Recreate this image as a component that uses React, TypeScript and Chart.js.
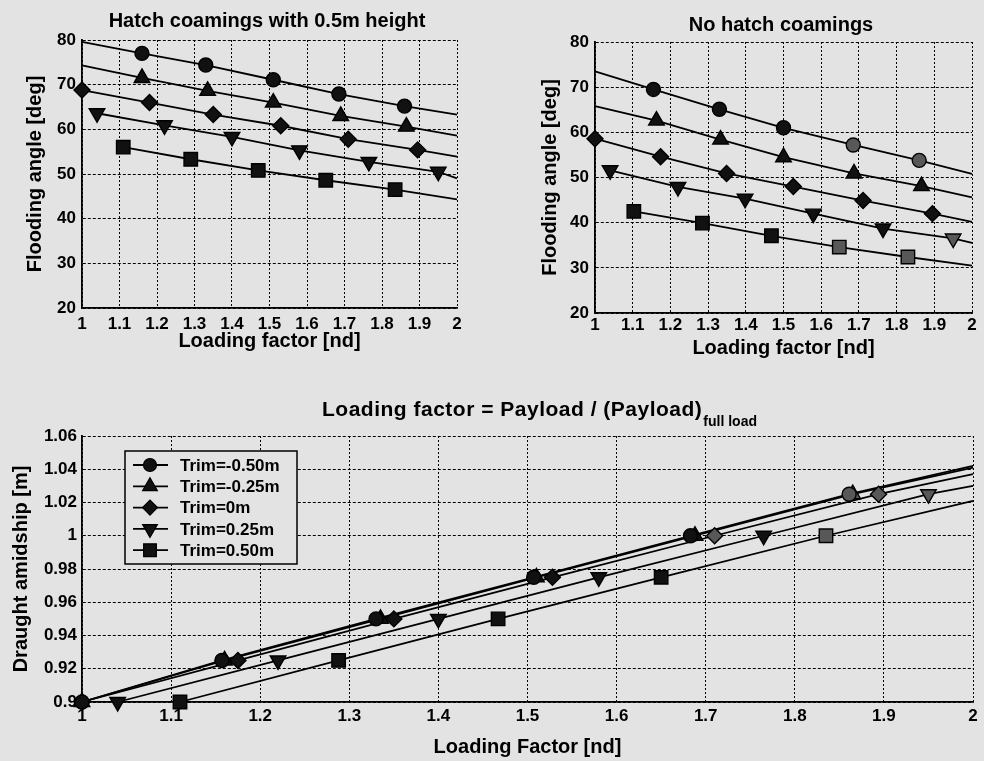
import React, { useEffect, useRef } from 'react';
import { Chart, registerables } from 'chart.js';

Chart.register(...registerables);

// ---------------- data ----------------
const trimLabels = ['Trim=-0.50m', 'Trim=-0.25m', 'Trim=0m', 'Trim=0.25m', 'Trim=0.50m'];

const loadTicks = [1, 1.1, 1.2, 1.3, 1.4, 1.5, 1.6, 1.7, 1.8, 1.9, 2];
const loadTickLabels = ['1', '1.1', '1.2', '1.3', '1.4', '1.5', '1.6', '1.7', '1.8', '1.9', '2'];
const angleTicks = [20, 30, 40, 50, 60, 70, 80];
const angleTickLabels = ['20', '30', '40', '50', '60', '70', '80'];
const draughtTicks = [0.9, 0.92, 0.94, 0.96, 0.98, 1, 1.02, 1.04, 1.06];
const draughtTickLabels = ['0.9', '0.92', '0.94', '0.96', '0.98', '1', '1.02', '1.04', '1.06'];

// Hatch coamings with 0.5m height: flooding angle [deg] vs loading factor
const hcLoadM050 = [1.16, 1.33, 1.51, 1.685, 1.86];
const hcAngleM050 = [77.0, 74.4, 71.1, 67.9, 65.2];
const hcLoadM025 = [1.16, 1.335, 1.51, 1.69, 1.865];
const hcAngleM025 = [71.5, 68.6, 66.0, 63.0, 60.6];
const hcLoad0 = [1.0, 1.18, 1.35, 1.53, 1.71, 1.895];
const hcAngle0 = [68.8, 66.0, 63.3, 60.8, 57.8, 55.4];
const hcLoadP025 = [1.04, 1.22, 1.4, 1.58, 1.765, 1.95];
const hcAngleP025 = [63.6, 60.9, 58.3, 55.3, 52.7, 50.5];
const hcLoadP050 = [1.11, 1.29, 1.47, 1.65, 1.835];
const hcAngleP050 = [56.0, 53.3, 50.8, 48.6, 46.5];
// trend line values at loading factor 1 (null: line starts at first marker) and at 2
const hcFitAt1 = [79.6, 74.3, null, null, null];
const hcFitAt2 = [63.3, 58.6, 53.9, 49.0, 44.3];

// No hatch coamings
const nhLoadM050 = [1.155, 1.33, 1.5, 1.685, 1.86];
const nhAngleM050 = [69.5, 65.1, 61.0, 57.2, 53.8];
const nhLoadM025 = [1.163, 1.333, 1.5, 1.687, 1.866];
const nhAngleM025 = [62.6, 58.4, 54.5, 50.9, 48.1];
const nhLoad0 = [1.0, 1.174, 1.349, 1.526, 1.711, 1.895];
const nhAngle0 = [58.6, 54.6, 50.9, 48.0, 44.9, 42.0];
const nhLoadP025 = [1.04, 1.22, 1.398, 1.579, 1.764, 1.95];
const nhAngleP025 = [51.6, 47.9, 45.3, 42.0, 38.7, 36.5];
const nhLoadP050 = [1.103, 1.285, 1.468, 1.648, 1.83];
const nhAngleP050 = [42.5, 39.9, 37.1, 34.6, 32.4];
const nhFitAt1 = [73.5, 65.8, null, null, null];
const nhFitAt2 = [50.8, 45.6, 40.2, 35.5, 30.5];

// Draught amidship [m] vs loading factor
const draughtLevels = [0.9, 0.925, 0.95, 0.975, 1.0, 1.025];
const dLoadM050 = [1.0, 1.157, 1.33, 1.507, 1.683, 1.861];
const dLoadM025 = [1.0, 1.16, 1.335, 1.51, 1.688, 1.865];
const dLoad0 = [1.0, 1.175, 1.35, 1.528, 1.71, 1.894];
const dLoadP025 = [1.04, 1.22, 1.4, 1.58, 1.765, 1.95];
const dLoadP050 = [1.11, 1.288, 1.467, 1.65, 1.835];
const dFitAt1 = [null, null, null, null, null];
const dFitAt2 = [1.042, 1.041, 1.037, 1.03, 1.021];

const titleHatch = 'Hatch coamings with 0.5m height';
const titleNoHatch = 'No hatch coamings';
const titleBottomMain = 'Loading factor = Payload / (Payload)';
const titleBottomSub = 'full load';
const xTitleTop = 'Loading factor [nd]';
const xTitleBottom = 'Loading Factor [nd]';
const yTitleAngle = 'Flooding angle [deg]';
const yTitleDraught = 'Draught amidship [m]';

// ---------------- styles ----------------
const FONT = '"Liberation Sans", Arial, Helvetica, sans-serif';
const INK = '#000000';
const PAPER = '#e3e3e3';
const MARK_FILL = '#111111';
const MARK_FILL_LIGHT = '#585858';
const markerStyles = ['circle', 'triangle', 'rectRot', 'triangle', 'rect'];
const markerRotation = [0, 0, 0, 180, 0];
const markerRadius = [7, 9, 8, 9, 9.5];
// lighter (scanned grey) marker fills, per series and point
const hcShade = [[0, 0, 0, 0, 0], [0, 0, 0, 0, 0], [0, 0, 0, 0, 0, 0], [0, 0, 0, 0, 0, 0], [0, 0, 0, 0, 0]];
const nhShade = [[0, 0, 0, 1, 1], [0, 0, 0, 0, 0], [0, 0, 0, 0, 0, 0], [0, 0, 0, 0, 0, 1], [0, 0, 0, 1, 1]];
const dShade = [[0, 0, 0, 0, 0, 1], [0, 0, 0, 0, 0, 1], [0, 0, 0, 0, 1, 1], [0, 0, 0, 0, 0, 1], [0, 0, 0, 0, 1]];

type Pt = { x: number; y: number };

function buildDatasets(
  loads: number[][], values: number[][], fitAt1: (number | null)[], fitAt2: number[], shade: number[][],
) {
  const out: any[] = [];
  loads.forEach((xs, i) => {
    const pts: Pt[] = xs.map((x, j) => ({ x, y: values[i][j] }));
    const linePts: Pt[] = [];
    const f1 = fitAt1[i];
    if (f1 !== null && f1 !== undefined) linePts.push({ x: 1, y: f1 });
    linePts.push(...pts, { x: 2, y: fitAt2[i] });
    out.push({
      label: trimLabels[i] + ' fit',
      data: linePts,
      showLine: true,
      borderColor: INK,
      borderWidth: 1.8,
      pointRadius: 0,
      pointHoverRadius: 0,
      tension: 0,
      order: 1,
      clip: false,
    });
    out.push({
      label: trimLabels[i],
      data: pts,
      showLine: false,
      pointStyle: markerStyles[i],
      pointRotation: markerRotation[i],
      pointRadius: markerRadius[i],
      pointHoverRadius: markerRadius[i],
      backgroundColor: (c: any) => (shade[i][c.dataIndex] ? MARK_FILL_LIGHT : MARK_FILL),
      borderColor: INK,
      borderWidth: 1.4,
      order: 0,
      clip: false,
    });
  });
  return out;
}

function axis(o: {
  min: number; max: number; values: number[]; labels: string[]; title: string;
  tickPad: number; titlePadTop: number; titlePadBottom: number; size: number; isX: boolean; dash: number[];
}) {
  return {
    type: 'linear',
    min: o.min,
    max: o.max,
    afterBuildTicks: (s: any) => { s.ticks = o.values.map((v) => ({ value: v })); },
    afterFit: (s: any) => { if (o.isX) s.height = o.size; else s.width = o.size; },
    ticks: {
      autoSkip: false, maxRotation: 0, minRotation: 0, padding: o.tickPad, color: INK,
      font: { family: FONT, size: 17, weight: 'bold' },
      callback: (_v: any, i: number) => o.labels[i],
    },
    grid: { display: true, color: INK, lineWidth: 1, drawTicks: false },
    border: { display: true, color: INK, width: 1.8, dash: o.dash },
    title: {
      display: true, text: o.title, color: INK,
      font: { family: FONT, size: 20, weight: 'bold' },
      padding: { top: o.titlePadTop, bottom: o.titlePadBottom },
    },
  };
}

function drawMarker(ctx: CanvasRenderingContext2D, style: string, x: number, y: number, r: number, rot: number) {
  ctx.save();
  ctx.translate(x, y);
  ctx.rotate((rot * Math.PI) / 180);
  ctx.beginPath();
  if (style === 'circle') {
    ctx.arc(0, 0, r, 0, Math.PI * 2);
  } else if (style === 'triangle') {
    ctx.moveTo(0, -r);
    ctx.lineTo(r * Math.sin((2 * Math.PI) / 3), -r * Math.cos((2 * Math.PI) / 3));
    ctx.lineTo(r * Math.sin((4 * Math.PI) / 3), -r * Math.cos((4 * Math.PI) / 3));
    ctx.closePath();
  } else if (style === 'rectRot') {
    ctx.moveTo(-r, 0); ctx.lineTo(0, -r); ctx.lineTo(r, 0); ctx.lineTo(0, r); ctx.closePath();
  } else {
    const s = Math.SQRT1_2 * r;
    ctx.rect(-s, -s, 2 * s, 2 * s);
  }
  ctx.fillStyle = MARK_FILL;
  ctx.fill();
  ctx.lineWidth = 1.2;
  ctx.strokeStyle = INK;
  ctx.stroke();
  ctx.restore();
}

function textPlugin(items: { text: string; x: number; y: number; size: number }[]) {
  return {
    id: 'figureText',
    afterDraw(chart: any) {
      const ctx: CanvasRenderingContext2D = chart.ctx;
      items.forEach((it) => {
        ctx.save();
        ctx.font = `bold ${it.size}px ${FONT}`;
        ctx.fillStyle = INK;
        ctx.textAlign = 'center';
        ctx.textBaseline = 'middle';
        ctx.fillText(it.text, it.x, it.y);
        ctx.restore();
      });
    },
  };
}

const bottomTitlePlugin = {
  id: 'bottomTitle',
  afterDraw(chart: any) {
    const ctx: CanvasRenderingContext2D = chart.ctx;
    ctx.save();
    ctx.fillStyle = INK;
    ctx.textAlign = 'left';
    ctx.textBaseline = 'middle';
    ctx.font = `bold 21px ${FONT}`;
    (ctx as any).letterSpacing = '0.5px';
    ctx.fillText(titleBottomMain, 322, 40);
    const w = ctx.measureText(titleBottomMain).width;
    ctx.font = `bold 14px ${FONT}`;
    (ctx as any).letterSpacing = '0px';
    ctx.fillText(titleBottomSub, 322 + w + 1, 52);
    ctx.restore();
  },
};

const legendPlugin = {
  id: 'boxLegend',
  afterDraw(chart: any) {
    const ctx: CanvasRenderingContext2D = chart.ctx;
    ctx.save();
    ctx.fillStyle = PAPER;
    ctx.fillRect(125, 81, 172, 113);
    ctx.strokeStyle = INK;
    ctx.lineWidth = 1.5;
    ctx.strokeRect(125, 81, 172, 113);
    trimLabels.forEach((lab, i) => {
      const y = 95 + i * 21.3;
      ctx.beginPath();
      ctx.moveTo(133, y);
      ctx.lineTo(168, y);
      ctx.lineWidth = 1.8;
      ctx.strokeStyle = INK;
      ctx.stroke();
      drawMarker(ctx, markerStyles[i], 150, y, markerRadius[i] - 0.5, markerRotation[i]);
      ctx.font = `bold 17px ${FONT}`;
      ctx.fillStyle = INK;
      ctx.textAlign = 'left';
      ctx.textBaseline = 'middle';
      ctx.fillText(lab, 180, y + 1);
    });
    ctx.restore();
  },
};

function baseOptions(pad: { top: number; right: number }, x: any, y: any) {
  return {
    animation: false,
    responsive: false,
    maintainAspectRatio: false,
    events: [],
    layout: { padding: { left: 0, top: pad.top, right: pad.right, bottom: 0 } },
    plugins: { legend: { display: false }, tooltip: { enabled: false }, title: { display: false } },
    scales: { x, y },
  };
}

function configHatch(): any {
  return {
    type: 'scatter',
    data: {
      datasets: buildDatasets(
        [hcLoadM050, hcLoadM025, hcLoad0, hcLoadP025, hcLoadP050],
        [hcAngleM050, hcAngleM025, hcAngle0, hcAngleP025, hcAngleP050],
        hcFitAt1, hcFitAt2, hcShade,
      ),
    },
    options: baseOptions(
      { top: 40, right: 33 },
      axis({ min: 1, max: 2, values: loadTicks, labels: loadTickLabels, title: xTitleTop, tickPad: 6, titlePadTop: 0, titlePadBottom: 7, size: 52, isX: true, dash: [2, 2] }),
      axis({ min: 20, max: 80, values: angleTicks, labels: angleTickLabels, title: yTitleAngle, tickPad: 6, titlePadTop: 23, titlePadBottom: 0, size: 82, isX: false, dash: [3, 2] }),
    ),
    plugins: [textPlugin([{ text: titleHatch, x: 267, y: 21, size: 20 }])],
  };
}

function configNoHatch(): any {
  return {
    type: 'scatter',
    data: {
      datasets: buildDatasets(
        [nhLoadM050, nhLoadM025, nhLoad0, nhLoadP025, nhLoadP050],
        [nhAngleM050, nhAngleM025, nhAngle0, nhAngleP025, nhAngleP050],
        nhFitAt1, nhFitAt2, nhShade,
      ),
    },
    options: baseOptions(
      { top: 42, right: 12 },
      axis({ min: 1, max: 2, values: loadTicks, labels: loadTickLabels, title: xTitleTop, tickPad: 2, titlePadTop: 0, titlePadBottom: 0, size: 47, isX: true, dash: [2, 2] }),
      axis({ min: 20, max: 80, values: angleTicks, labels: angleTickLabels, title: yTitleAngle, tickPad: 6, titlePadTop: 48, titlePadBottom: 0, size: 105, isX: false, dash: [3, 2] }),
    ),
    plugins: [textPlugin([{ text: titleNoHatch, x: 291, y: 25, size: 20 }])],
  };
}

function configDraught(): any {
  const loads = [dLoadM050, dLoadM025, dLoad0, dLoadP025, dLoadP050];
  return {
    type: 'scatter',
    data: {
      datasets: buildDatasets(
        loads,
        loads.map((l) => draughtLevels.slice(0, l.length)),
        dFitAt1, dFitAt2, dShade,
      ),
    },
    options: baseOptions(
      { top: 66, right: 11 },
      axis({ min: 1, max: 2, values: loadTicks, labels: loadTickLabels, title: xTitleBottom, tickPad: 4, titlePadTop: 0, titlePadBottom: 2, size: 59, isX: true, dash: [2, 2] }),
      axis({ min: 0.9, max: 1.06, values: draughtTicks, labels: draughtTickLabels, title: yTitleDraught, tickPad: 5, titlePadTop: 9, titlePadBottom: 0, size: 82, isX: false, dash: [3, 2] }),
    ),
    plugins: [bottomTitlePlugin, legendPlugin],
  };
}

function ChartBox(props: { left: number; top: number; width: number; height: number; make: () => any }) {
  const ref = useRef<HTMLCanvasElement | null>(null);
  useEffect(() => {
    if (!ref.current) return;
    const chart = new Chart(ref.current, props.make());
    return () => chart.destroy();
  }, []);
  return (
    <canvas
      ref={ref}
      width={props.width}
      height={props.height}
      style={{ position: 'absolute', left: props.left, top: props.top, width: props.width, height: props.height }}
    />
  );
}

export default function App() {
  return (
    <div style={{ position: 'absolute', left: 0, top: 0, width: 984, height: 761, background: PAPER, overflow: 'hidden' }}>
      <ChartBox left={0} top={0} width={490} height={360} make={configHatch} />
      <ChartBox left={490} top={0} width={494} height={360} make={configNoHatch} />
      <ChartBox left={0} top={370} width={984} height={391} make={configDraught} />
    </div>
  );
}
